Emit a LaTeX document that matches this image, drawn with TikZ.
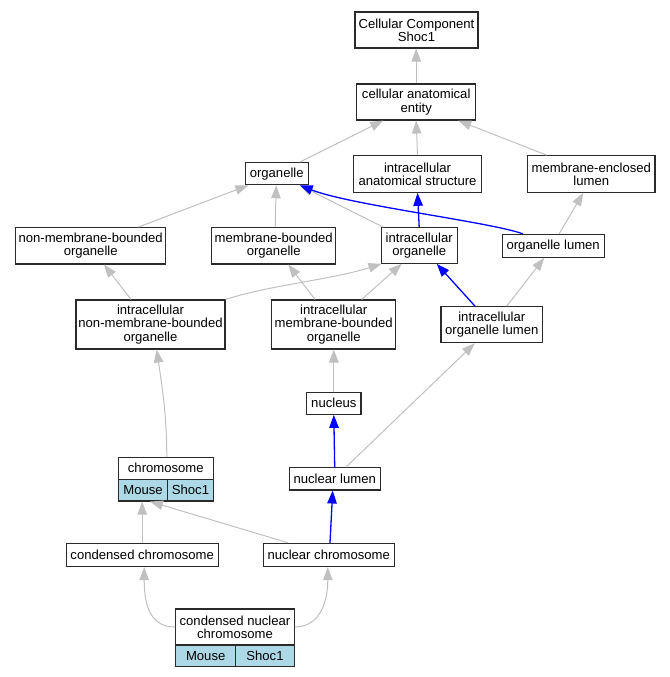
\documentclass[tikz,border=0pt]{standalone}
\usepackage{fontspec}
\setmainfont{Liberation Sans}
\usetikzlibrary{arrows.meta}
\definecolor{edgegray}{HTML}{C0C0C0}
\definecolor{cellblue}{HTML}{ADD8E6}
\definecolor{boxline}{HTML}{2A2A2A}
\begin{document}
\begin{tikzpicture}[x=1pt,y=-1pt,
  box/.style={draw=boxline, line width=1.1pt, fill=white, inner sep=0pt, align=center,
    font=\fontsize{13.1}{13.3}\selectfont},
  cell/.style={box, fill=cellblue},
  isa/.style={draw=edgegray, line width=1pt, -{Triangle[length=13pt,width=9.5pt]}},
  partof/.style={draw=blue, line width=1.3pt, -{Triangle[length=13pt,width=9.5pt]}}]
\useasboundingbox (0,0) rectangle (669,677);
% nodes
\node[box, minimum width=123pt, minimum height=36pt] (CC) at (416.5,30) {Cellular Component\\Shoc1};
\node[box, minimum width=119pt, minimum height=36pt] (cae) at (416.2,102) {cellular anatomical\\entity};
\node[box, minimum width=63.3pt, minimum height=22pt] (org) at (276.7,173.7) {organelle};
\node[box, minimum width=128.4pt, minimum height=36.6pt] (ias) at (417.5,174) {intracellular\\anatomical structure};
\node[box, minimum width=127.3pt, minimum height=36.6pt] (mel) at (591.3,174) {membrane-enclosed\\lumen};
\node[box, minimum width=150pt, minimum height=36.3pt] (nmbo) at (90.7,245.8) {non-membrane-bounded\\organelle};
\node[box, minimum width=124pt, minimum height=36.3pt] (mbo) at (273.7,245.8) {membrane-bounded\\organelle};
\node[box, minimum width=76.3pt, minimum height=35.6pt] (io) at (419.2,245.5) {intracellular\\organelle};
\node[box, minimum width=101.7pt, minimum height=23pt] (ol) at (553.2,245.8) {organelle lumen};
\node[box, minimum width=149pt, minimum height=49pt] (inmbo) at (150.5,324.5) {intracellular\\non-membrane-bounded\\organelle};
\node[box, minimum width=124pt, minimum height=49pt] (imbo) at (333.7,324.5) {intracellular\\membrane-bounded\\organelle};
\node[box, minimum width=101.7pt, minimum height=36pt] (iol) at (491.8,324.7) {intracellular\\organelle lumen};
\node[box, minimum width=54.3pt, minimum height=22pt] (nucleus) at (333.8,403.3) {nucleus};
\node[box, minimum width=90.7pt, minimum height=22.3pt] (nl) at (334.7,478.8) {nuclear lumen};
\node[box, minimum width=95pt, minimum height=22pt] (chr) at (165.8,468.3) {chromosome};
\node[cell, minimum width=49.4pt, minimum height=21.7pt] (chrM) at (143,490.15) {Mouse};
\node[cell, minimum width=45.6pt, minimum height=21.7pt] (chrS) at (190.5,490.15) {Shoc1};
\node[box, minimum width=152.3pt, minimum height=23.3pt] (cc) at (142.2,555) {condensed chromosome};
\node[box, minimum width=131pt, minimum height=23.3pt] (nc) at (328.8,555) {nuclear chromosome};
\node[box, minimum width=118.6pt, minimum height=36pt] (cnc) at (235,627) {condensed nuclear\\chromosome};
\node[cell, minimum width=60pt, minimum height=21.7pt] (cncM) at (205.7,655.85) {Mouse};
\node[cell, minimum width=58.6pt, minimum height=21.7pt] (cncS) at (265,655.85) {Shoc1};
% edges
\draw[isa] (cae.north) -- (cae.north |- CC.south);
\draw[isa] ([xshift=23pt]org.north) -- ([xshift=-33pt]cae.south);
\draw[isa] (ias.north) -- (cae.south);
\draw[isa] ([xshift=-44.6pt]mel.north) -- ([xshift=42pt]cae.south);
\draw[isa] ([xshift=47.6pt]nmbo.north) -- ([xshift=-28.4pt]org.south);
\draw[isa] ([xshift=1.5pt]mbo.north) -- ([xshift=-0.5pt]org.south);
\draw[isa] ([xshift=-36pt]io.north) -- ([xshift=23pt]org.south);
\draw[partof] ([xshift=-30.5pt]ol.north) .. controls (490,222) and (350,205) .. ([xshift=23pt]org.south);
\draw[partof] (io.north) -- (ias.south);
\draw[isa] ([xshift=6pt]ol.north) -- ([xshift=-8pt]mel.south);
\draw[isa] ([xshift=-19.5pt]inmbo.north) -- ([xshift=13.3pt]nmbo.south);
\draw[isa] (inmbo.north east) .. controls (270,285) and (330,280) .. ([xshift=1pt]io.south west);
\draw[isa] ([xshift=-18.7pt]imbo.north) -- ([xshift=14.6pt]mbo.south);
\draw[isa] ([xshift=28pt]imbo.north) -- ([xshift=-17.5pt]io.south);
\draw[partof] ([xshift=-16.8pt]iol.north) -- ([xshift=17.5pt]io.south);
\draw[isa] ([xshift=15pt]iol.north) -- ([xshift=-9pt]ol.south);
\draw[isa] (nucleus.north) -- (nucleus.north |- imbo.south);
\draw[partof] (nl.north) -- (nucleus.south);
\draw[isa] ([xshift=11.3pt]nl.north) -- ([xshift=-17pt]iol.south);
\draw[isa] ([xshift=1pt]chr.north) .. controls +(0,-45) and +(4,28) .. ([xshift=6.2pt]inmbo.south);
\draw[isa] (cc.north) -- (cc.north |- chrM.south);
\draw[isa] ([xshift=-40.5pt]nc.north) -- ([xshift=7pt]chrM.south);
\draw[partof] ([xshift=1.2pt]nc.north) -- ([xshift=-2pt]nl.south);
\draw[isa] (cnc.west) .. controls (150,627) and (144.2,605) .. ([xshift=2pt]cc.south);
\draw[isa] (cnc.east) .. controls (318,627) and (327.8,605) .. ([xshift=-1pt]nc.south);
\end{tikzpicture}
\end{document}
